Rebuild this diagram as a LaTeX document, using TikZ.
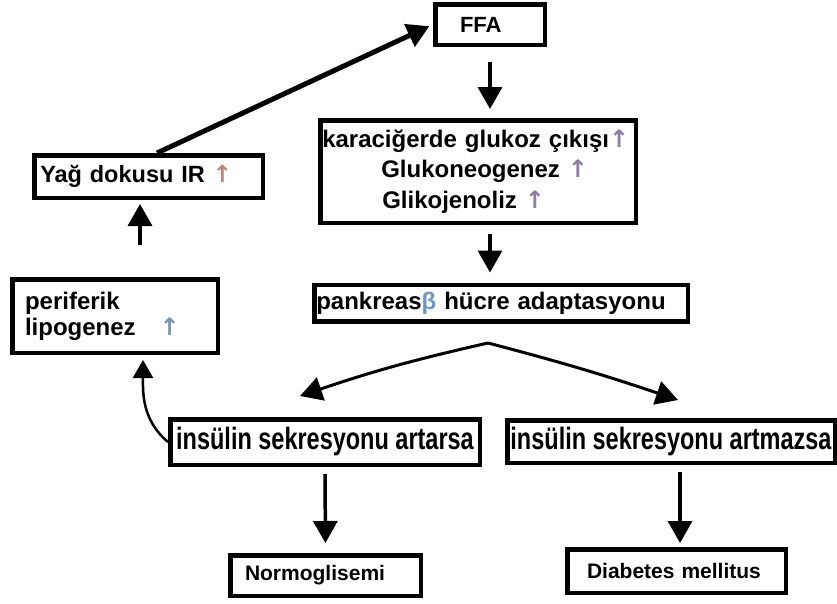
\documentclass[tikz,border=0pt]{standalone}
\usepackage{fontspec}
\setmainfont{Liberation Sans}
\newfontfamily\narrowfont{Liberation Sans}[FakeStretch=0.76]
\newfontfamily\arrowfont{DejaVu Sans}
\usetikzlibrary{arrows.meta,positioning}
\definecolor{liverup}{RGB}{140,125,165}
\definecolor{fatup}{RGB}{195,130,120}
\definecolor{lipoup}{RGB}{120,150,175}
\definecolor{betablue}{RGB}{110,150,205}
\newcommand{\uparr}[1]{{\arrowfont\color{#1}↑}}

\begin{document}
\begin{tikzpicture}[
        x=1pt,y=-1pt,
        box/.style={rectangle,draw,line width=4.5pt,fill=white,inner sep=2pt,font=\bfseries\fontsize{23.5}{28}\selectfont},
        narrowbox/.style={box,font=\narrowfont\bfseries\fontsize{30.9}{34}\selectfont},
        arr/.style={-{Triangle[length=22pt,width=24pt]},line width=3.5pt},
        thinarr/.style={-{Triangle[length=18pt,width=20pt]},line width=2.5pt}
    ]
    \useasboundingbox (0,0) rectangle (837,603);

    \node[box,inner xsep=24.75pt,text width=60pt,minimum height=40.5pt,align=left,font=\bfseries\fontsize{22}{26}\selectfont] (ffa) at (490,24.5) {FFA};
    \node[box,text width=311.5pt,minimum height=102.5pt,align=left,font=\bfseries\fontsize{24}{30.5}\selectfont] (liver) at (478,171.5) {karaciğerde glukoz çıkışı\uparr{liverup}\\\hspace*{59pt}Glukoneogenez \uparr{liverup}\\\hspace*{60pt}Glikojenoliz \uparr{liverup}};
    \node[box,text width=369.5pt,minimum height=36.5pt,align=left,font=\bfseries\fontsize{24}{28}\selectfont] (pank) at (501,303) {pankreas{\color{betablue}β} hücre adaptasyonu};
    \node[box,inner xsep=6pt,text width=216.5pt,minimum height=42.5pt,align=left] (yag) at (148.5,176.5) {Yağ dokusu IR \uparr{fatup}};
    \node[box,inner xsep=12.75pt,text width=180pt,minimum height=73.5pt,align=left,font=\bfseries\fontsize{24}{26}\selectfont] (perif) at (115,316) {periferik\\lipogenez\hspace{24pt}\uparr{lipoup}};
    \node[narrowbox,minimum width=309.5pt,minimum height=45.5pt] (artarsa) at (325,442) {insülin sekresyonu artarsa};
    \node[narrowbox,minimum width=327.5pt,minimum height=42.5pt] (artmazsa) at (671,441.5) {insülin sekresyonu artmazsa};
    \node[box,below of=artarsa,node distance=133.5pt,xshift=0.5pt,inner xsep=14.75pt,text width=161pt,minimum height=40.5pt,align=left,font=\bfseries\fontsize{21}{25}\selectfont] (normo) {Normoglisemi};
    \node[box,below of=artmazsa,node distance=129.5pt,xshift=5.5pt,inner xsep=19.75pt,text width=179pt,minimum height=43.5pt,align=left,font=\bfseries\fontsize{21}{25}\selectfont] (diab) {Diabetes mellitus};
    \coordinate (split) at (488,343);

    \draw[arr,shorten <=15pt,shorten >=9pt] (ffa.south) -- (ffa.south |- liver.north);
    \draw[arr,shorten <=9pt,shorten >=10pt] ([xshift=12pt]liver.south) -- ([xshift=12pt]liver.south |- pank.north);
    \draw[arr,line width=5pt,shorten >=4pt] ([xshift=8.5pt]yag.north) -- (ffa.west);
    \draw[arr,shorten <=32pt,shorten >=4pt] ([xshift=25pt]perif.north) -- ([xshift=25pt]perif.north |- yag.south);
    \draw[arr,line width=3pt] (split) to[bend right=3] ([xshift=-25pt,yshift=21pt]artarsa.north);
    \draw[arr,line width=3pt] (split) to[bend left=2] ([xshift=7pt,yshift=18pt]artmazsa.north);
    \draw[arr,shorten <=7pt,shorten >=10pt] (artarsa.south) -- (normo.north);
    \draw[arr,shorten <=7pt,shorten >=4pt] ([xshift=9pt]artmazsa.south) -- ([xshift=9pt]artmazsa.south |- diab.north);
    \draw[thinarr,shorten >=5pt] (artarsa.west) to[out=140,in=-90] ([xshift=28pt]perif.south);
\end{tikzpicture}
\end{document}
